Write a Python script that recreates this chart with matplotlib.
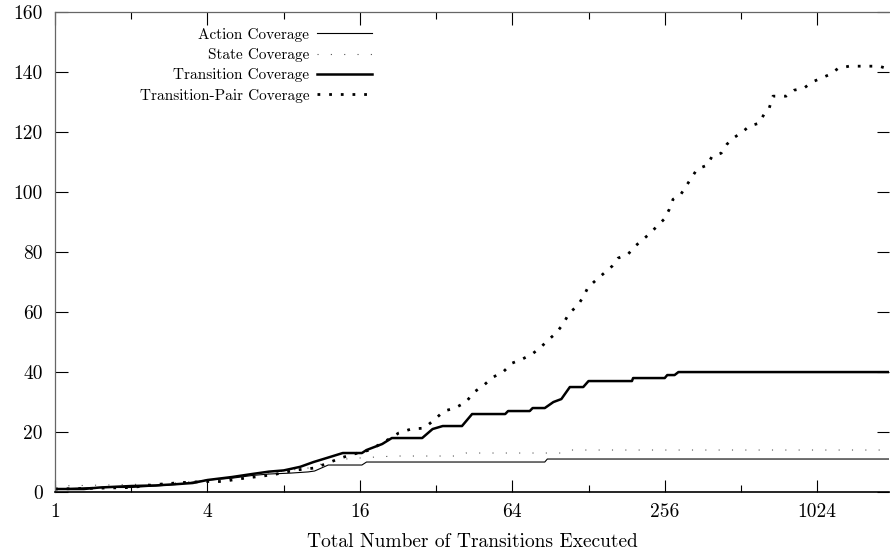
import matplotlib
matplotlib.use("Agg")
import matplotlib.pyplot as plt
from matplotlib.ticker import FixedLocator, NullFormatter

# --- datos ---
action_x = [1, 1.4, 2, 2.5, 3, 4, 5, 6, 7, 8.5, 10, 10.6, 12, 16.3, 17, 86, 88, 1970]
action_y = [1, 1.5, 1.5, 2, 2.5, 4, 4.6, 5.5, 6, 6.3, 6.7, 7, 9, 9, 10, 10, 11, 11]

state_x = [1, 2, 3, 4, 6, 8, 10, 12, 14, 17, 22, 38, 42, 100, 108, 1970]
state_y = [2, 2.5, 3, 4, 5.5, 7, 8, 10, 11, 11.5, 12, 12, 13, 13, 14, 14]

trans_x = [1, 1.3, 1.5, 2, 2.5, 3, 3.5, 4, 5, 6, 7, 8, 9.3, 10.5, 12, 13.7,
           16.3, 17, 19.6, 21.4, 28.2, 31, 34, 40.5, 44.4, 60, 61.6, 75, 77,
           86, 93, 100, 108, 122, 128, 190, 192, 256, 262, 280, 290, 1970]
trans_y = [1, 1, 1.5, 2, 2.2, 2.6, 3, 4, 5, 6, 6.8, 7.2, 8.4, 10, 11.5, 13,
           13, 14, 16, 18, 18, 21, 22, 22, 26, 26, 27, 27, 28,
           28, 30, 31, 35, 35, 37, 37, 38, 38, 39, 39, 40, 40]

pair_x = [1, 2, 2.5, 3, 3.4, 4, 4.6, 5, 5.7, 6.6, 7.5, 8.9, 10.6, 12, 13.4,
          14.9, 17.5, 20.7, 22.8, 25.5, 28.7, 31.4, 34.4, 38, 42, 45.2, 49.5,
          53.7, 58.8, 64, 70, 76.6, 82.3, 88.7, 95.3, 101.6, 107.4, 115.5,
          121.9, 127.5, 138.5, 147.5, 158.6, 167.5, 183.5, 193.8, 208.5, 224.4,
          239, 254.8, 267, 276, 295, 311, 326, 344, 377, 394, 428, 451, 477,
          518, 552, 604, 632, 662, 685, 772, 831, 909, 977, 1062, 1152, 1241,
          1370, 1800, 1970]
pair_y = [1, 1.5, 2.5, 3, 3.3, 3.5, 3.5, 4, 4.7, 5.3, 6, 7.3, 8, 9.7, 11.3,
          12.5, 14, 17.5, 19.7, 21, 21.3, 24, 27, 28, 30, 33.3, 35.7,
          38.3, 40, 43, 44.3, 46, 48, 50.7, 53, 56, 59.7, 62,
          65, 68.3, 71, 73, 75.3, 78, 79.3, 81.7, 84, 86.3,
          88.7, 91, 94.3, 97.6, 99, 102, 104.7, 107.7, 109, 112, 113, 116, 118,
          120, 122, 123, 126, 128, 132, 132, 134, 134.7, 136.7, 138, 139.3, 141.3,
          142, 142, 141]

series_labels = ["Action Coverage", "State Coverage", "Transition Coverage",
                 "Transition-Pair Coverage"]

major_ticks = [1, 4, 16, 64, 256, 1024]
minor_ticks = [2, 8, 32, 128, 512]
y_ticks = list(range(0, 161, 20))


def dibujar():
    plt.rcParams["font.family"] = "serif"
    plt.rcParams["font.serif"] = ["cmr10", "DejaVu Serif"]
    plt.rcParams["axes.formatter.use_mathtext"] = True

    fig = plt.figure(figsize=(8.9, 5.55), dpi=100)
    ax = fig.add_axes([0.0618, 0.1135, 0.9372, 0.8645])

    # 1. Curvas
    ax.plot(action_x, action_y, color="black", lw=0.8, label=series_labels[0])
    ax.plot(state_x, state_y, color="#555555", lw=0.8,
            linestyle=(0, (1, 11)), label=series_labels[1])
    ax.plot(trans_x, trans_y, color="black", lw=1.8, label=series_labels[2])
    ax.plot(pair_x, pair_y, color="black", lw=2.0, dash_capstyle="butt",
            linestyle=(0, (1, 3.2)), label=series_labels[3])

    # 2. Ejes
    ax.set_xscale("log", base=2)
    ax.set_xlim(1, 1970)
    ax.set_ylim(0, 160)
    ax.xaxis.set_major_locator(FixedLocator(major_ticks))
    ax.xaxis.set_minor_locator(FixedLocator(minor_ticks))
    ax.xaxis.set_minor_formatter(NullFormatter())
    ax.set_xticklabels([str(t) for t in major_ticks])
    ax.set_yticks(y_ticks)
    ax.set_yticklabels([str(t) for t in y_ticks])

    ax.tick_params(axis="both", which="major", direction="in", length=9,
                   width=0.8, labelsize=14, top=True, right=True)
    ax.tick_params(axis="x", which="minor", direction="in", length=5,
                   width=0.8, top=True)
    ax.tick_params(axis="x", which="major", pad=8)
    ax.tick_params(axis="y", which="major", pad=9)
    for s in ax.spines.values():
        s.set_linewidth(0.9)
        s.set_color("#666666")
    ax.spines["bottom"].set_color("black")
    ax.spines["bottom"].set_linewidth(1.2)
    ax.spines["right"].set_visible(False)

    ax.set_xlabel("Total Number of Transitions Executed", fontsize=14, labelpad=9)

    # 3. Leyenda estilo gnuplot (texto a la izquierda, muestra a la derecha)
    ax.legend(loc="upper right", bbox_to_anchor=(0.38, 0.968), frameon=False,
              markerfirst=False, fontsize=11, handlelength=3.6,
              handletextpad=0.5, labelspacing=0.42, borderaxespad=0,
              borderpad=0)

    fig.savefig("out.png", dpi=100)


if __name__ == "__main__":
    dibujar()
